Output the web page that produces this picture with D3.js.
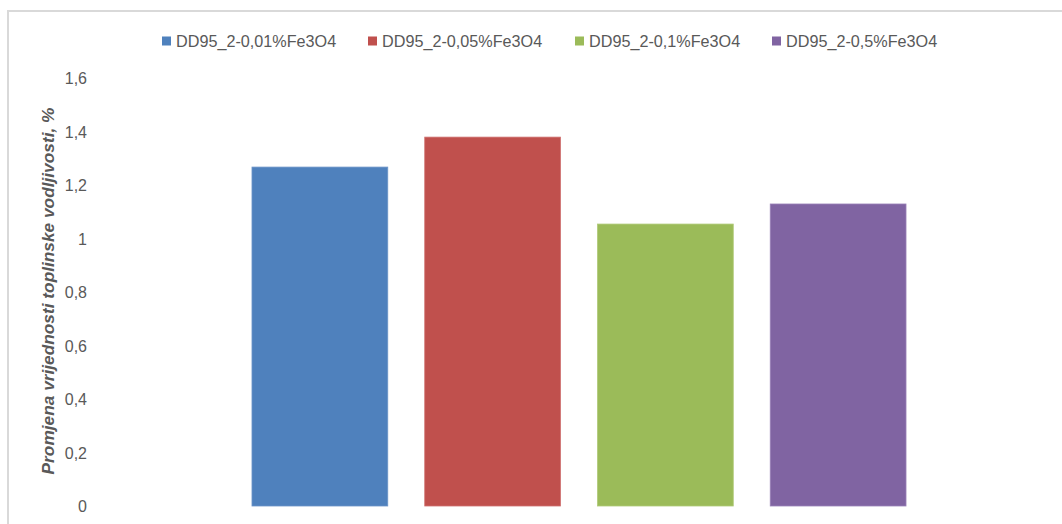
<!DOCTYPE html>
<html><head><meta charset="utf-8">
<script src="https://cdn.jsdelivr.net/npm/d3@7"></script>
<style>html,body{margin:0;padding:0;background:#fff;} svg{display:block;}</style>
</head><body>
<svg id="c" width="1062" height="524"></svg>
<script>
const series = ["DD95_2-0,01%Fe3O4","DD95_2-0,05%Fe3O4","DD95_2-0,1%Fe3O4","DD95_2-0,5%Fe3O4"];
const values = [1.267, 1.379, 1.054, 1.129];
const colors = ["#4F81BD","#C0504D","#9BBB59","#8064A2"];
const strokes = ["#6d95c8","#cf7270","#b0ca78","#9a82b8"];
const yTicks = [0,0.2,0.4,0.6,0.8,1,1.2,1.4,1.6];
const yTitle = "Promjena vrijednosti toplinske vodljivosti, %";

const svg = d3.select("#c");
const font = "'Liberation Sans', Arial, sans-serif";
const grey = "#595959";

// outer chart border (top + left)
svg.append("path").attr("d","M8,524 V11 H1062").attr("fill","none")
  .attr("stroke","#d9d9d9").attr("stroke-width",2);

const y = d3.scaleLinear().domain([0,1.6]).range([506,78]);
const x = d3.scaleBand().domain(series).range([233.5,924.5]).paddingInner(0.214).paddingOuter(0.107);

// bars
svg.selectAll("rect.bar").data(series).join("rect").attr("class","bar")
  .attr("x",d=>x(d)).attr("width",x.bandwidth())
  .attr("y",(d,i)=>y(values[i])).attr("height",(d,i)=>y(0)-y(values[i]))
  .attr("fill",(d,i)=>colors[i]).attr("stroke",(d,i)=>strokes[i]).attr("stroke-width",0.8);

// y axis
const yAxis = d3.axisLeft(y).tickValues(yTicks).tickSize(0).tickPadding(0)
  .tickFormat(d=>String(d).replace(".",","));
const ga = svg.append("g").attr("transform","translate(87,0)").call(yAxis);
ga.select(".domain").remove();
ga.selectAll("text").attr("font-family",font).attr("font-size",16).attr("fill",grey).attr("dy","0.35em");

// y title
svg.append("text").attr("transform","translate(48,291) rotate(-90)")
  .attr("text-anchor","middle").attr("dy","0.35em")
  .attr("font-family",font).attr("font-size",17.3).attr("font-weight","bold").attr("font-style","italic")
  .attr("fill",grey).text(yTitle);

// legend
const legX = [162,368,575,772];
const lg = svg.selectAll("g.leg").data(series).join("g").attr("class","leg")
  .attr("transform",(d,i)=>`translate(${legX[i]},41)`);
lg.append("rect").attr("x",0).attr("y",-4.5).attr("width",9).attr("height",9).attr("fill",(d,i)=>colors[i]);
lg.append("text").attr("x",14).attr("dy","0.35em").attr("font-family",font).attr("font-size",16.2)
  .attr("fill",grey).text(d=>d);
</script>
</body></html>
